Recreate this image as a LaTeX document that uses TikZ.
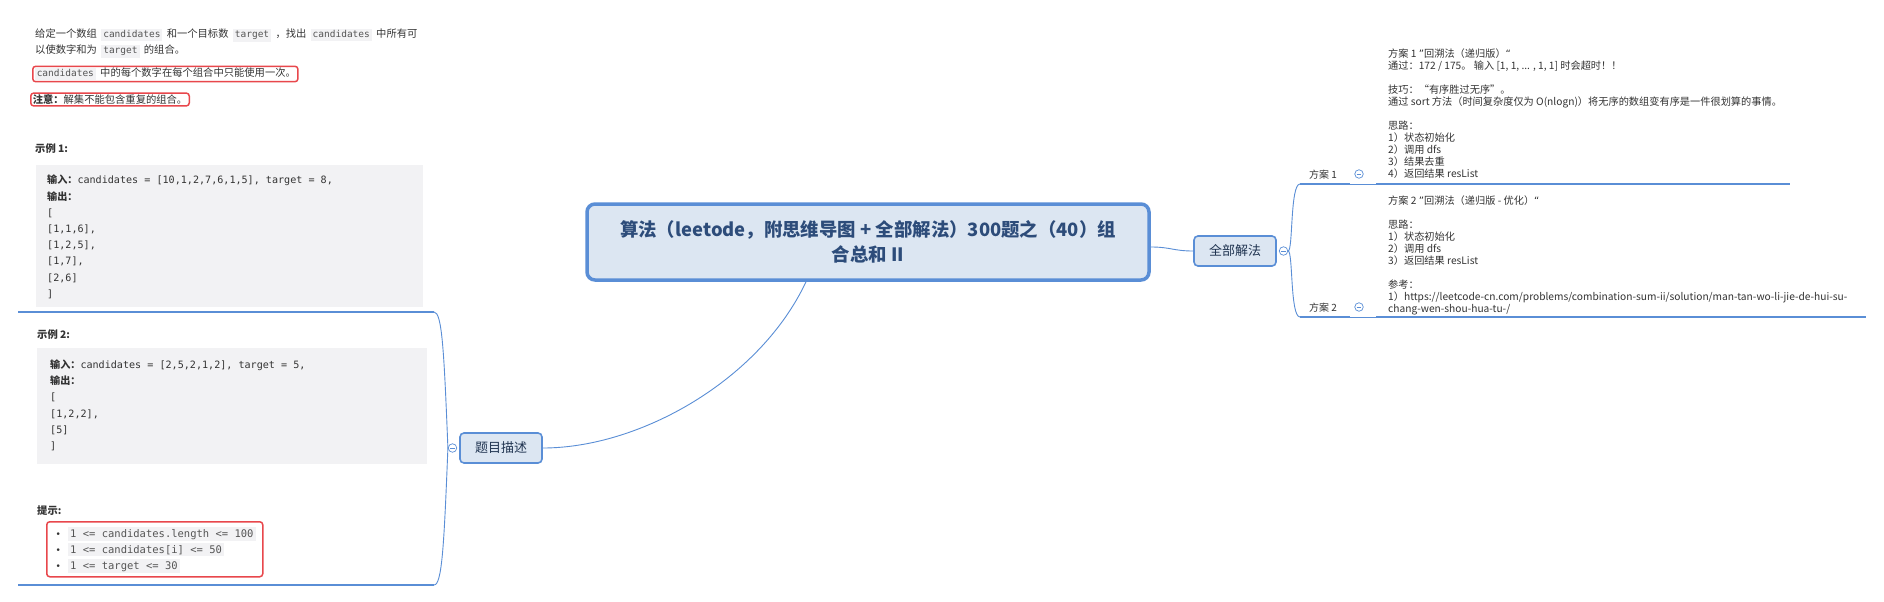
\documentclass[tikz,border=0pt]{standalone}
\usepackage{fontspec}
\setmainfont{Noto Sans CJK SC}
\setmonofont{DejaVu Sans Mono}
\newfontfamily\qfont{DejaVu Sans}

\definecolor{xblue}{HTML}{5A8ED6}
\definecolor{nodefill}{HTML}{DCE6F2}
\definecolor{nodetext}{HTML}{1F3350}
\definecolor{roottext}{HTML}{2D4C7A}
\definecolor{redline}{HTML}{E8474C}
\definecolor{codebg}{HTML}{F2F2F4}
\definecolor{codefg}{HTML}{555555}
\definecolor{txt}{HTML}{333333}

% inline code in a grey box
\newcommand{\ic}[2][9.5]{{\setlength{\fboxsep}{2pt}\colorbox{codebg}{\fontsize{#1}{12}\selectfont\ttfamily\color{codefg}\vphantom{[}#2}}}
\newcommand{\gap}{\hspace{4.3pt}}

\begin{document}
\begin{tikzpicture}[x=1pt, y=-1pt,
    para/.style={anchor=base west, inner sep=0, text=txt, font=\fontsize{10.3}{14}\selectfont},
    redbox/.style={draw=redline, line width=1.5pt, rounded corners=3pt, inner xsep=2pt, inner ysep=1.5pt, text=txt, font=\fontsize{10.3}{14}\selectfont},
    codebox/.style={fill=codebg, anchor=north west, inner sep=0},
    code/.style={anchor=north west, inner sep=0, align=left, text=txt, font=\fontsize{10.1}{16.2}\selectfont\ttfamily},
    topic/.style={draw=xblue, line width=1.6pt, fill=nodefill, rounded corners=4pt, inner sep=0, text=nodetext, font=\fontsize{13}{15}\selectfont},
    fold/.style={circle, draw=xblue, fill=white, line width=0.7pt, minimum size=8.5pt, inner sep=0,
        path picture={\draw[xblue, line width=0.7pt] ([xshift=-2.3pt]path picture bounding box.center) -- ([xshift=2.3pt]path picture bounding box.center);}},
    bar/.style={xblue, line width=2.5pt},
    link/.style={xblue, line width=0.9pt},
    note/.style={anchor=north west, inner sep=0, align=left, text=txt, font=\fontsize{10.2}{12}\selectfont},
    sub/.style={anchor=base, inner sep=0, text=txt, font=\fontsize{10}{12}\selectfont}]
    \fill[white] (0,0) rectangle (1884,602);
    \useasboundingbox (0,0) rectangle (1884,602);

    % problem statement
    \node[para] (q1) at (35,38) {给定一个数组\gap\ic{candidates}\gap 和一个目标数\gap\ic{target}\gap ，找出\gap\ic{candidates}\gap 中所有可};
    \node[para] (q2) at (35,54) {以使数字和为\gap\ic{target}\gap 的组合。};
    \node[redbox, anchor=west] (r1) at (32,74) {\ic{candidates}\gap 中的每个数字在每个组合中只能使用一次。};
    \node[redbox, anchor=west] (r2) at (30,99.5) {\textbf{注意：}解集不能包含重复的组合。};

    % example 1
    \node[para, font=\fontsize{10.3}{14}\selectfont\bfseries] (h1) at (35,152) {示例 1:};
    \node[codebox, minimum width=387, minimum height=142] (ex1) at (36,165) {};
    \node[code] (ex1t) at (47,175) {{\rmfamily\bfseries 输入：}candidates = [10,1,2,7,6,1,5], target = 8,\\{\rmfamily\bfseries 输出：}\\{}[\\{}[1,1,6],\\{}[1,2,5],\\{}[1,7],\\{}[2,6]\\{}]};

    % example 2
    \node[para, font=\fontsize{10.3}{14}\selectfont\bfseries] (h2) at (37,338) {示例 2:};
    \node[codebox, minimum width=390, minimum height=116] (ex2) at (37,348) {};
    \node[code] (ex2t) at (50,359.5) {{\rmfamily\bfseries 输入：}candidates = [2,5,2,1,2], target = 5,\\{\rmfamily\bfseries 输出：}\\{}[\\{}[1,2,2],\\{}[5]\\{}]};

    % hints
    \node[para, font=\fontsize{10.3}{14}\selectfont\bfseries] (h3) at (37,514) {提示:};
    \node[redbox, anchor=north west, minimum width=216, minimum height=55] (r3) at (46,521) {};
    \foreach \y/\c [count=\i] in {537/{1 <= candidates.length <= 100}, 553/{1 <= candidates[i] <= 50}, 569/{1 <= target <= 30}}{
        \node[para, font=\fontsize{9}{12}\selectfont\qfont] (dot\i) at (55.5,\y) {•};
        \node[anchor=base west, inner sep=0] (tip\i) at (68,\y) {\ic[10.5]{\c}};
    }

    % left branch
    \coordinate (ua) at (18,312);
    \coordinate (ub) at (434,312);
    \coordinate (uc) at (18,585);
    \coordinate (ud) at (434,585);
    \draw[bar] (ua) -- (ub);
    \draw[bar] (uc) -- (ud);
    \node[topic, minimum width=82, minimum height=30] (desc) at (501,448) {题目描述};
    \node[fold] (f1) at (452.5,448) {};
    \draw[link] (f1.west) .. controls (444,350) and (442,312) .. (ub);
    \draw[link] (f1.west) .. controls (444,546) and (442,585) .. (ud);

    % central topic
    \node[topic, line width=3.5pt, rounded corners=8pt, minimum width=562, minimum height=76, align=center,
        text=roottext, font=\fontsize{18.4}{25}\selectfont\bfseries] (root) at (868,242)
        {算法（leetode，附思维导图 + 全部解法）300题之（40）组\\合总和 II};
    \draw[link] ([xshift=-62pt]root.south) .. controls (760,380) and (640,448) .. (desc.east);

    % right branch
    \node[topic, minimum width=82, minimum height=30] (sol) at (1235,251) {全部解法};
    \draw[link] ([yshift=-5pt]root.east) .. controls +(20,0) and +(-20,0) .. (sol.west);
    \node[fold] (f2) at (1283.5,251) {};

    \coordinate (p1a) at (1300,184);
    \coordinate (p1b) at (1350,184);
    \coordinate (n1a) at (1376,184);
    \coordinate (n1b) at (1790,184);
    \coordinate (p2a) at (1300,317);
    \coordinate (p2b) at (1350,317);
    \coordinate (n2a) at (1376,317);
    \coordinate (n2b) at (1866,317);
    \draw[link] (f2.east) .. controls +(5,0) and +(-10,0) .. (p1a);
    \draw[link] (f2.east) .. controls +(5,0) and +(-10,0) .. (p2a);

    \node[sub] (p1) at (1323,178.5) {方案 1};
    \node[fold] (f3) at (1359,174) {};
    \draw[bar] (p1a) -- (p1b);
    \draw[link] (p1b) -- (n1a);
    \draw[bar] (n1a) -- (n1b);
    \node[note] (n1) at (1388,49) {方案 1 {\qfont ”}回溯法（递归版）{\qfont “}\\通过：172 / 175。 输入 [1, 1, ... , 1, 1] 时会超时！！\\[12pt]技巧：“有序胜过无序”。\\通过 sort 方法（时间复杂度仅为 O(nlogn)）将无序的数组变有序是一件很划算的事情。\\[12pt]思路：\\1）状态初始化\\2）调用 dfs\\3）结果去重\\4）返回结果 resList};

    \node[sub] (p2) at (1323,311.5) {方案 2};
    \node[fold] (f4) at (1359,307) {};
    \draw[bar] (p2a) -- (p2b);
    \draw[link] (p2b) -- (n2a);
    \draw[bar] (n2a) -- (n2b);
    \node[note] (n2) at (1388,196) {方案 2 {\qfont ”}回溯法（递归版 - 优化）{\qfont “}\\[12pt]思路：\\1）状态初始化\\2）调用 dfs\\3）返回结果 resList\\[12pt]参考：\\1）https://leetcode-cn.com/problems/combination-sum-ii/solution/man-tan-wo-li-jie-de-hui-su-\\chang-wen-shou-hua-tu-/};
\end{tikzpicture}
\end{document}
